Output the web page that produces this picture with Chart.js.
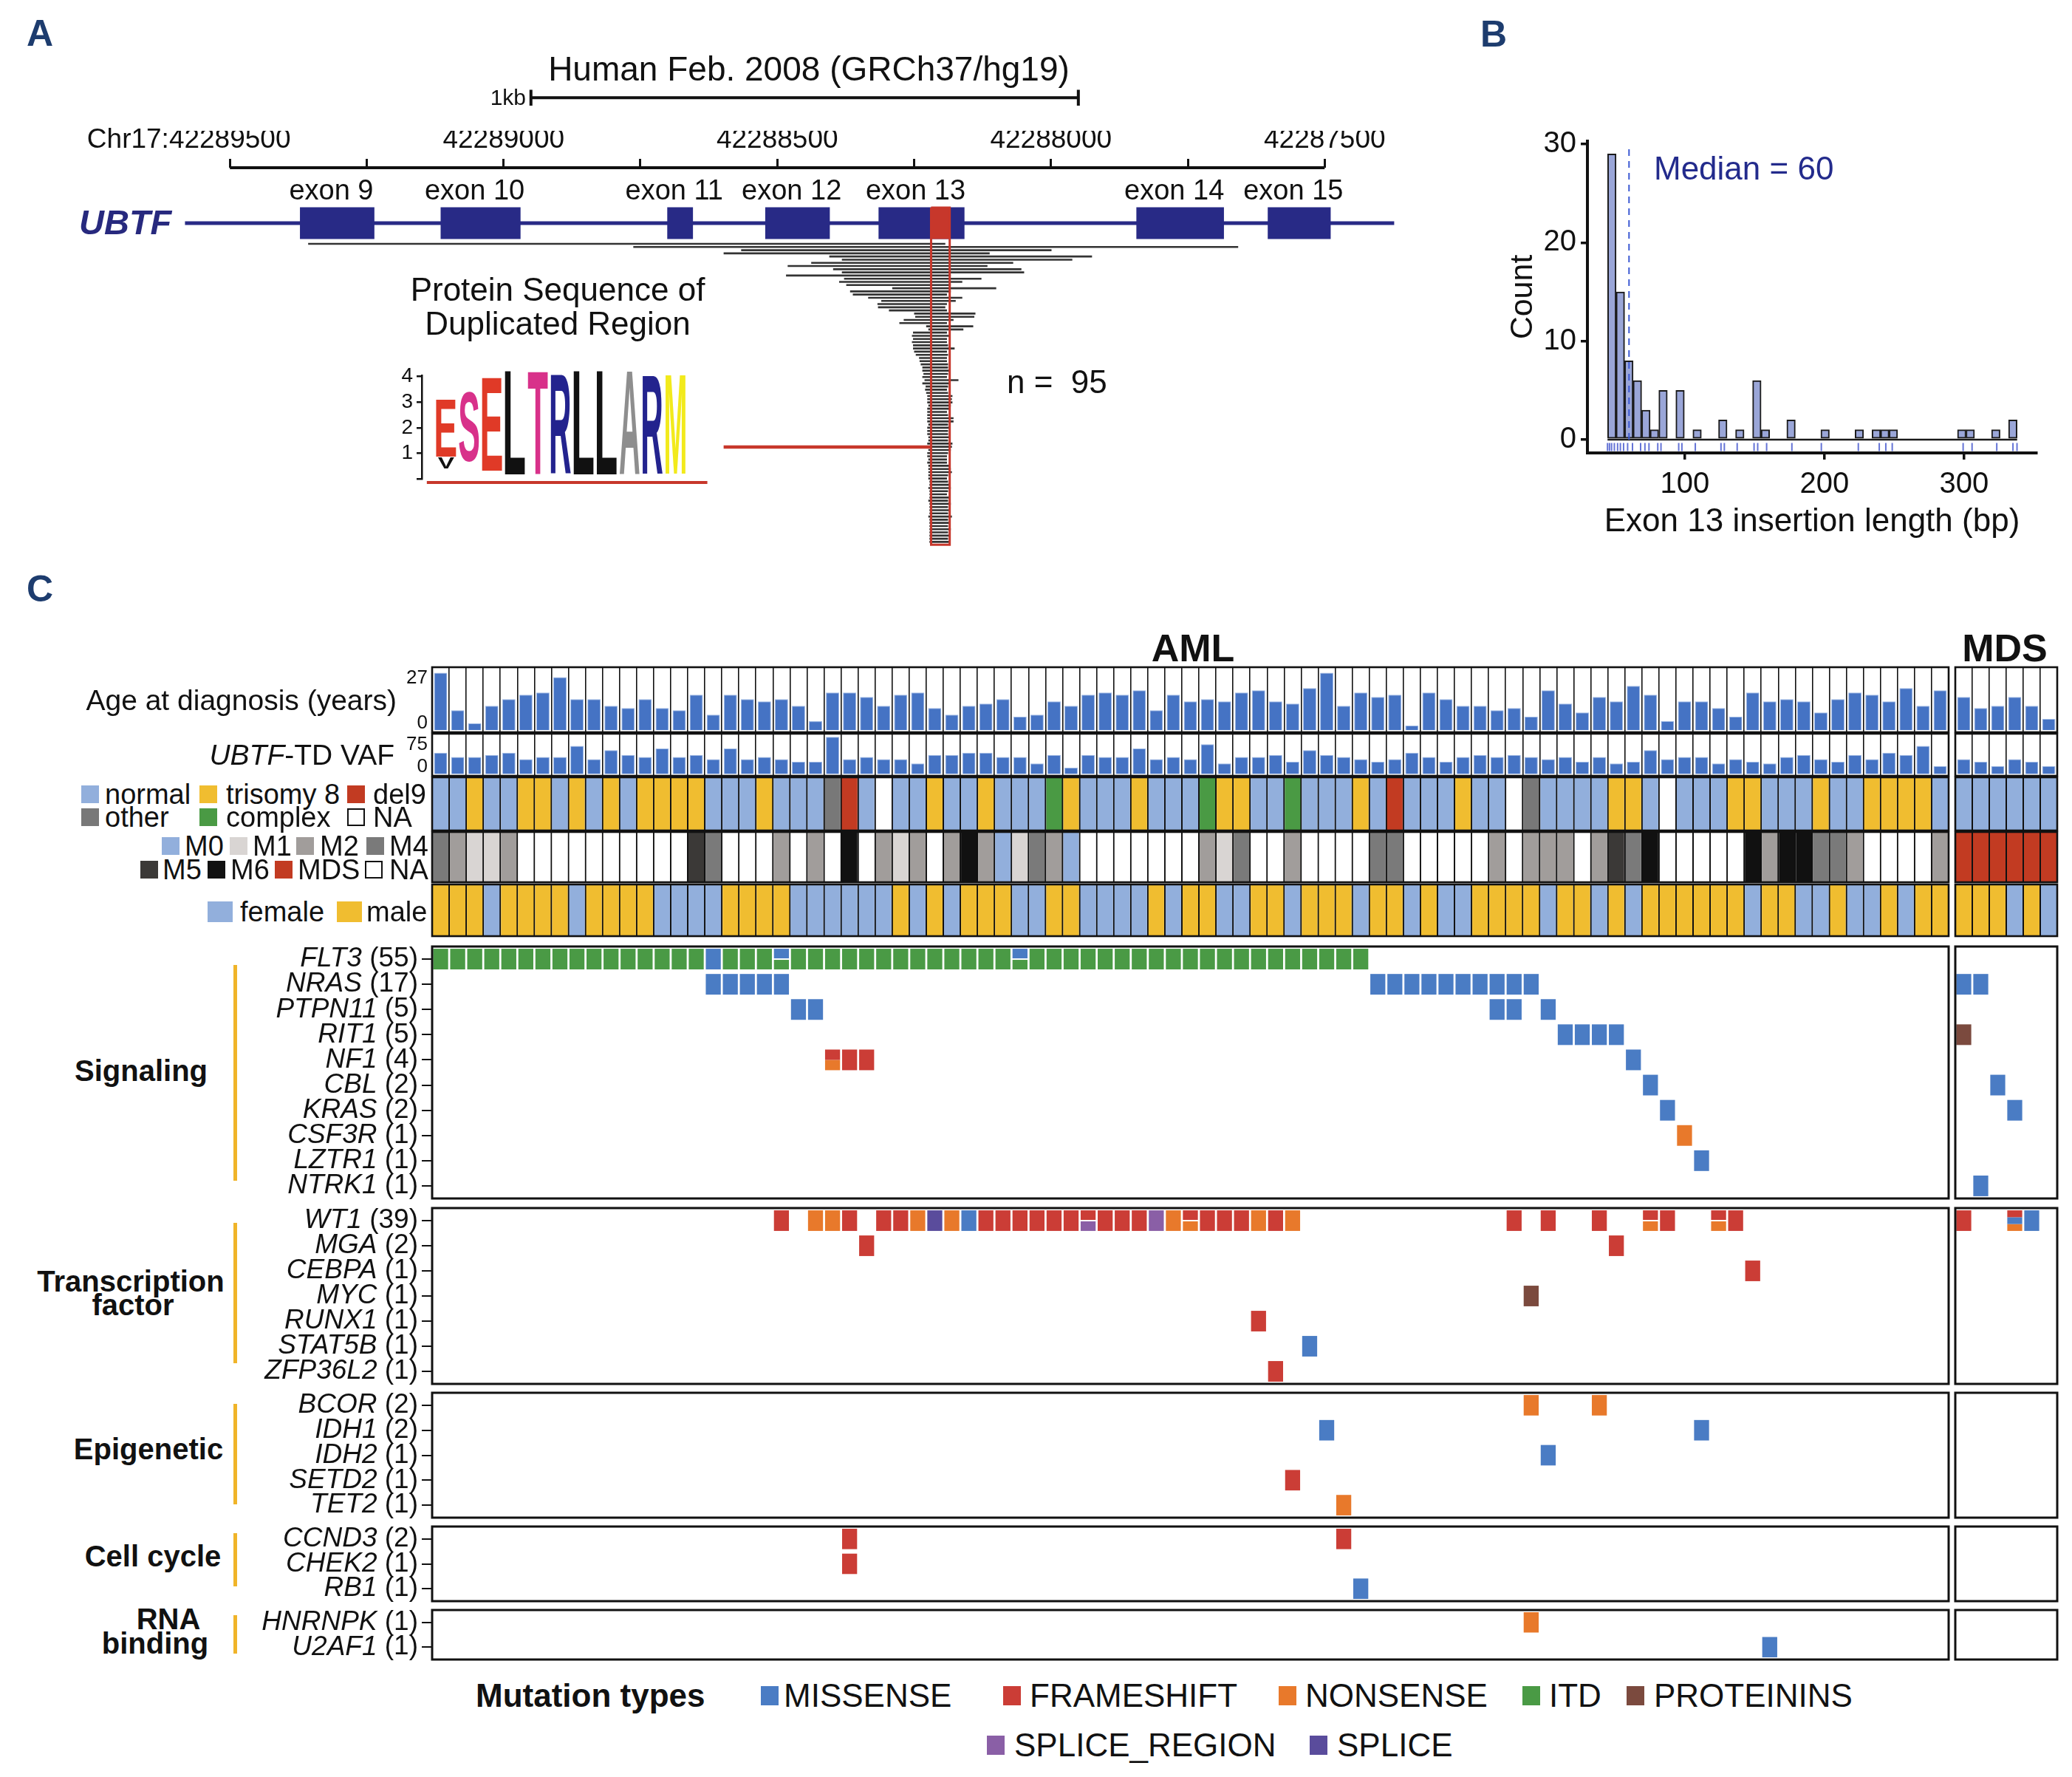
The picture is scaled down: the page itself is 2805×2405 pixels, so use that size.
<!DOCTYPE html>
<html>
<head>
<meta charset="utf-8">
<title>UBTF tandem duplications</title>
<script src="https://cdn.jsdelivr.net/npm/chart.js@4.4.1/dist/chart.umd.min.js"></script>
<style>
  html, body { margin: 0; padding: 0; background: #fff; }
  #fig { position: relative; width: 2805px; height: 2405px; overflow: hidden; background: #fff;
         font-family: 'Liberation Sans', Arial, Helvetica, sans-serif; color: #111; }
  #fig canvas { position: absolute; }
  .t { position: absolute; white-space: pre; line-height: 1; }
  .sw { position: absolute; box-sizing: border-box; }
</style>
</head>
<body>
<div id="fig"></div>
<script>
const FONT = "'Liberation Sans', Arial, Helvetica, sans-serif";

// ---------------- Panel A: UBTF exons 9-15, chr17 (hg19) ----------------
const EXON_NAMES = ['exon 9', 'exon 10', 'exon 11', 'exon 12', 'exon 13', 'exon 14', 'exon 15'];
const EXON_START = [42289372, 42289115, 42288701, 42288522, 42288315, 42287844, 42287604];
const EXON_END   = [42289236, 42288969, 42288654, 42288404, 42288158, 42287684, 42287489];
const GENE_SPAN = [42289582, 42287373];
const RULER_TICKS = [42289500, 42289250, 42289000, 42288750, 42288500, 42288250, 42288000, 42287750, 42287500];
const SCALE_BAR = [42288950, 42287950];      // 1 kb
const DUP_REGION = [42288219, 42288185];     // shared duplicated stretch of exon 13
const LOGO_LINK_FROM = 42288598;

// one duplicated segment per patient (n = 95), left / right genomic end
const INS_LEFT = [
  42289357, 42288763, 42288566, 42288598, 42288405, 42288382, 42288438, 42288481, 42288398, 42288382,
  42288484, 42288378, 42288387, 42288374, 42288290, 42288367, 42288362, 42288334, 42288310, 42288317,
  42288316, 42288296, 42288250, 42288248, 42288269, 42288277, 42288228, 42288224, 42288252, 42288254,
  42288252, 42288254, 42288252, 42288252, 42288250, 42288247, 42288241, 42288240, 42288238, 42288235,
  42288235, 42288233, 42288235, 42288231, 42288235, 42288229, 42288230, 42288228, 42288226, 42288226,
  42288226, 42288224, 42288226, 42288226, 42288226, 42288226, 42288226, 42288224, 42288226, 42288226,
  42288226, 42288224, 42288224, 42288226, 42288226, 42288224, 42288226, 42288226, 42288224, 42288226,
  42288224, 42288224, 42288224, 42288224, 42288224, 42288222, 42288222, 42288224, 42288222, 42288222,
  42288222, 42288224, 42288222, 42288222, 42288222, 42288222, 42288224, 42288222, 42288222, 42288222,
  42288222, 42288222, 42288222, 42288222, 42288222];
const INS_RIGHT = [
  42288193, 42287658, 42287999, 42288112, 42287925, 42287961, 42288069, 42288116, 42288054, 42288049,
  42288183, 42288127, 42288162, 42288183, 42288100, 42288183, 42288190, 42288162, 42288174, 42288190,
  42288193, 42288190, 42288138, 42288140, 42288178, 42288190, 42288142, 42288160, 42288190, 42288185,
  42288190, 42288190, 42288188, 42288176, 42288190, 42288188, 42288190, 42288190, 42288188, 42288188,
  42288185, 42288188, 42288190, 42288169, 42288186, 42288188, 42288190, 42288188, 42288180, 42288181,
  42288180, 42288183, 42288185, 42288190, 42288188, 42288178, 42288178, 42288188, 42288185, 42288188,
  42288188, 42288186, 42288188, 42288180, 42288181, 42288183, 42288188, 42288190, 42288190, 42288190,
  42288185, 42288183, 42288181, 42288188, 42288190, 42288188, 42288186, 42288183, 42288188, 42288190,
  42288186, 42288188, 42288183, 42288188, 42288186, 42288188, 42288181, 42288188, 42288186, 42288188,
  42288183, 42288188, 42288186, 42288188, 42288186];

// sequence logo of the duplicated peptide (bits)
const LOGO_LETTERS = ['E', 'S', 'E', 'L', 'T', 'R', 'L', 'L', 'A', 'R', 'M'];
const LOGO_COLORS  = ['#e03a27', '#d8318a', '#e03a27', '#111111', '#d8318a', '#23238e',
                      '#111111', '#111111', '#8e8e8e', '#23238e', '#f2ea1c'];
const LOGO_BASE = [0.87, 0.65, 0.31, 0.17, 0.17, 0.19, 0.17, 0.17, 0.17, 0.19, 0.21];
const LOGO_TOP  = [3.08, 3.39, 3.95, 4.19, 4.19, 4.05, 4.19, 4.19, 4.19, 4.02, 4.07];
const LOGO_MINOR_LETTERS = ['V'];
const LOGO_MINOR_POS = [0];
const LOGO_MINOR_BASE = [0.42];
const LOGO_MINOR_TOP = [0.85];
const LOGO_YTICKS = [0, 1, 2, 3, 4];

// ---------------- Panel B: insertion length histogram ----------------
const HIST_MIDS = [47.7, 53.8, 59.9, 66.0, 72.1, 78.2, 84.4, 90.5, 96.6, 102.7, 108.8, 114.9,
  121.0, 127.2, 133.3, 139.4, 145.5, 151.6, 157.7, 163.8, 170.0, 176.1, 182.2, 188.3,
  194.4, 200.5, 206.6, 212.8, 218.9, 225.0, 231.1, 237.2, 243.3, 249.4, 255.6, 261.7,
  267.8, 273.9, 280.0, 286.1, 292.2, 298.4, 304.5, 310.6, 316.7, 322.8, 328.9, 335.0];
const HIST_COUNTS = [29, 15, 8, 6, 3, 1, 5, 0, 5, 0, 1, 0,
  0, 2, 0, 1, 0, 6, 1, 0, 0, 2, 0, 0,
  0, 1, 0, 0, 0, 1, 0, 1, 1, 1, 0, 0,
  0, 0, 0, 0, 0, 1, 1, 0, 0, 1, 0, 2];
const HIST_RANGE = [44.6, 338.1];
const HIST_MEDIAN = 60;
const HIST_RUG = [44.6, 46.0, 47.5, 49.5, 51.8, 53.8, 56.1, 59.0, 62.5, 68.3, 71.4, 74.3, 80.6, 82.9,
  95.6, 97.9, 107.5, 125.9, 128.3, 137.5, 149.6, 152.2, 158.6, 176.7, 197.8, 224.3, 239.3,
  244.0, 248.6, 299.4, 305.8, 323.5, 335.1, 338.0];
const HIST_XTICKS = [100, 200, 300];
const HIST_YTICKS = [0, 10, 20, 30];

// ---------------- Panel C: per-patient tracks (89 AML | 6 MDS) ----------------
const AGE_TICKS = [0, 27];
const AGE_AML = [26, 9, 3, 11, 14, 16, 17, 24, 14, 14, 11, 10, 14, 10, 9, 16, 7, 16, 14, 13,
  14, 11, 4, 17, 17, 15, 11, 16, 17, 10, 7, 11, 12, 14, 6, 7, 13, 11, 16, 17,
  16, 18, 9, 16, 13, 14, 13, 17, 18, 13, 12, 19, 26, 11, 17, 15, 16, 2, 17, 14,
  11, 11, 9, 10, 6, 18, 12, 8, 15, 13, 20, 16, 4, 13, 13, 10, 6, 17, 13, 14,
  13, 8, 14, 17, 16, 13, 19, 11, 18];
const AGE_MDS = [15, 10, 11, 15, 11, 5];

const VAF_TICKS = [0, 75];
const VAF_AML = [40, 32, 32, 36, 40, 28, 32, 32, 53, 28, 45, 36, 32, 48, 32, 36, 28, 48, 28, 32,
  28, 23, 23, 70, 28, 32, 28, 28, 20, 36, 36, 40, 40, 32, 32, 20, 36, 12, 36, 32,
  32, 48, 28, 32, 28, 56, 20, 32, 32, 36, 23, 45, 36, 32, 28, 23, 28, 40, 32, 23,
  32, 36, 32, 36, 32, 28, 32, 23, 32, 20, 23, 45, 28, 32, 32, 20, 28, 23, 20, 32,
  36, 28, 23, 36, 28, 40, 36, 53, 15];
const VAF_MDS = [28, 23, 15, 28, 23, 15];

const KARYO_CODES  = ['N', 'T', 'D', 'O', 'C', 'X'];
const KARYO_NAMES  = ['normal', 'trisomy 8', 'del9', 'other', 'complex', 'NA'];
const KARYO_COLORS = ['#92afdc', '#f0bd30', '#c23b22', '#787878', '#4a9a44', '#ffffff'];
const KARYO_AML = 'NNTNNTTNTN TNTTTTNNNT NNNODNXNNT NNTNNNCTNN NTNNNCTTNN CNNNTNDNNN TNNXONNNNT TNXNNNTTNN NTNNTTTTN';
const KARYO_MDS = 'NNNNNN';

const FAB_CODES  = ['0', '1', '2', '4', '5', '6', 'D', '.'];
const FAB_NAMES  = ['M0', 'M1', 'M2', 'M4', 'M5', 'M6', 'MDS', 'NA'];
const FAB_COLORS = ['#92afdc', '#d9d5d3', '#a19d9b', '#7a7a7a', '#3b3937', '#111111', '#c23b22', '#ffffff'];
const FAB_AML = '42112..... .....54... 2.2.6.212. 26201420.. .....214.. 2....44... ..2.222.25 46.....626 6442....2';
const FAB_MDS = 'DDDDDD';

const SEX_CODES  = ['F', 'M'];
const SEX_NAMES  = ['female', 'male'];
const SEX_COLORS = ['#92afdc', '#f0bd30'];
const SEX_AML = 'MMMFMMMMFM MMMFFFFMMM MFFFFFFMFM FMMMFFMMFF FFMFMMFFMM FMMMFMMFMF FMMMMFMMFM FMMMMMMFMM FFMFFMFMM';
const SEX_MDS = 'MMMFMF';

// mutation calls: one char per patient, AML|MDS ('.' = none)
const MUT_CODES  = ['M', 'F', 'N', 'I', 'P', 'R', 'S'];
const MUT_NAMES  = ['MISSENSE', 'FRAMESHIFT', 'NONSENSE', 'ITD', 'PROTEININS', 'SPLICE_REGION', 'SPLICE'];
const MUT_COLORS = ['#4a7cc4', '#cb3d36', '#e8792b', '#4a9a45', '#7b4a3e', '#8a5fa6', '#5a4c9c'];

const SIG_GENES  = ['FLT3', 'NRAS', 'PTPN11', 'RIT1', 'NF1', 'CBL', 'KRAS', 'CSF3R', 'LZTR1', 'NTRK1'];
const SIG_COUNTS = [55, 17, 5, 5, 4, 2, 2, 1, 1, 1];
const SIG_CALLS = [
  'IIIIIIIIII IIIIIIMIII IIIIIIIIII IIIIIIIIII IIIIIIIIII IIIII..... .......... .......... .........|......',
  '.......... ......MMMM M......... .......... .......... .....MMMMM MMMMM..... .......... .........|MM....',
  '.......... .......... .MM....... .......... .......... .......... ..MM.M.... .......... .........|......',
  '.......... .......... .......... .......... .......... .......... ......MMMM .......... .........|P.....',
  '.......... .......... ...FFF.... .......... .......... .......... .......... M......... .........|......',
  '.......... .......... .......... .......... .......... .......... .......... .M........ .........|..M...',
  '.......... .......... .......... .......... .......... .......... .......... ..M....... .........|...M..',
  '.......... .......... .......... .......... .......... .......... .......... ...N...... .........|......',
  '.......... .......... .......... .......... .......... .......... .......... ....M..... .........|......',
  '.......... .......... .......... .......... .......... .......... .......... .......... .........|.M....'];

const TF_GENES  = ['WT1', 'MGA', 'CEBPA', 'MYC', 'RUNX1', 'STAT5B', 'ZFP36L2'];
const TF_COUNTS = [39, 2, 1, 1, 1, 1, 1];
const TF_CALLS = [
  '.......... .......... F.NNF.FFNS NMFFFFFFFF FFRNFFFFNF N......... ...F.F..F. .FF..FF... .........|F..FM.',
  '.......... .......... .....F.... .......... .......... .......... .........F .......... .........|......',
  '.......... .......... .......... .......... .......... .......... .......... .......F.. .........|......',
  '.......... .......... .......... .......... .......... .......... ....P..... .......... .........|......',
  '.......... .......... .......... .......... ........F. .......... .......... .......... .........|......',
  '.......... .......... .......... .......... .......... .M........ .......... .......... .........|......',
  '.......... .......... .......... .......... .........F .......... .......... .......... .........|......'];

const EPI_GENES  = ['BCOR', 'IDH1', 'IDH2', 'SETD2', 'TET2'];
const EPI_COUNTS = [2, 2, 1, 1, 1];
const EPI_CALLS = [
  '.......... .......... .......... .......... .......... .......... ....N...N. .......... .........|......',
  '.......... .......... .......... .......... .......... ..M....... .......... ....M..... .........|......',
  '.......... .......... .......... .......... .......... .......... .....M.... .......... .........|......',
  '.......... .......... .......... .......... .......... F......... .......... .......... .........|......',
  '.......... .......... .......... .......... .......... ...N...... .......... .......... .........|......'];

const CC_GENES  = ['CCND3', 'CHEK2', 'RB1'];
const CC_COUNTS = [2, 1, 1];
const CC_CALLS = [
  '.......... .......... ....F..... .......... .......... ...F...... .......... .......... .........|......',
  '.......... .......... ....F..... .......... .......... .......... .......... .......... .........|......',
  '.......... .......... .......... .......... .......... ....M..... .......... .......... .........|......'];

const RNA_GENES  = ['HNRNPK', 'U2AF1'];
const RNA_COUNTS = [1, 1];
const RNA_CALLS = [
  '.......... .......... .......... .......... .......... .......... ....N..... .......... .........|......',
  '.......... .......... .......... .......... .......... .......... .......... ........M. .........|......'];

// cells carrying two or three mutation types (top to bottom)
const SPLIT_CELLS = [
  ['FLT3', 'AML', 20, 'MI'], ['FLT3', 'AML', 34, 'MI'], ['NF1', 'AML', 23, 'FN'],
  ['WT1', 'AML', 38, 'FR'], ['WT1', 'AML', 44, 'FN'], ['WT1', 'AML', 71, 'FN'],
  ['WT1', 'AML', 75, 'FN'], ['WT1', 'MDS', 3, 'FMN']];

// ---------------- helpers ----------------
const fig = document.getElementById('fig');
const strip = s => s.replace(/ /g, '');

function addCanvas(x, y, w, h) {
  const c = document.createElement('canvas');
  c.width = w; c.height = h;
  c.style.left = x + 'px'; c.style.top = y + 'px';
  c.style.width = w + 'px'; c.style.height = h + 'px';
  fig.appendChild(c);
  return c;
}

function text(html, x, y, size, anchor, style) {
  const d = document.createElement('div');
  d.className = 't';
  d.innerHTML = html;
  d.style.left = x + 'px';
  d.style.top = y + 'px';
  d.style.fontSize = size + 'px';
  const tx = anchor === 'r' ? '-100%' : anchor === 'c' ? '-50%' : '0';
  d.style.transform = `translate(${tx},-50%)`;
  Object.assign(d.style, style || {});
  fig.appendChild(d);
}

function swatch(x, yc, w, h, color) {
  const d = document.createElement('div');
  d.className = 'sw';
  const hollow = color === '#ffffff';
  Object.assign(d.style, {
    left: x + 'px', top: (yc - h / 2) + 'px', width: w + 'px', height: h + 'px',
    background: color, border: hollow ? '2.5px solid #111' : 'none'
  });
  fig.appendChild(d);
}

const base = padding => ({
  responsive: false, animation: false, devicePixelRatio: 1, events: [],
  layout: { padding },
  plugins: { legend: { display: false }, tooltip: { enabled: false } }
});

const outline = w => ({
  id: 'outline',
  afterDraw(chart) {
    const { ctx, chartArea: a } = chart;
    ctx.save();
    ctx.lineWidth = w; ctx.strokeStyle = '#111';
    ctx.strokeRect(a.left, a.top, a.right - a.left, a.bottom - a.top);
    ctx.restore();
  }
});

// tick labels for the two ends of a compact track axis (top label hangs, bottom sits)
const edgeTicks = ticks => ({
  id: 'edgeTicks',
  afterDraw(chart) {
    const { ctx, chartArea: a } = chart;
    ctx.save();
    ctx.fillStyle = '#111'; ctx.font = `26px ${FONT}`; ctx.textAlign = 'right';
    ctx.textBaseline = 'top'; ctx.fillText(String(ticks[1]), a.left - 6, a.top + 2);
    ctx.textBaseline = 'bottom'; ctx.fillText(String(ticks[0]), a.left - 6, a.bottom + 1);
    ctx.restore();
  }
});

const geneLabels = (genes, counts) => ({
  id: 'geneLabels',
  afterDraw(chart) {
    const { ctx, chartArea: a, scales: { y } } = chart;
    ctx.save();
    ctx.fillStyle = '#111'; ctx.textBaseline = 'middle'; ctx.textAlign = 'right';
    const xr = a.left - 19;
    genes.forEach((g, i) => {
      const py = y.getPixelForValue(i);
      const cnt = ` (${counts[i]})`;
      ctx.font = `37px ${FONT}`;
      const w = ctx.measureText(cnt).width;
      ctx.fillText(cnt, xr, py);
      ctx.font = `italic 37px ${FONT}`;
      ctx.fillText(g, xr - w, py);
    });
    ctx.restore();
  }
});

function stretchGlyph(ctx, ch, x, y, w, h, color) {
  ctx.save();
  ctx.font = `bold 200px ${FONT}`;
  ctx.textAlign = 'left'; ctx.textBaseline = 'alphabetic';
  const m = ctx.measureText(ch);
  const gw = m.actualBoundingBoxLeft + m.actualBoundingBoxRight;
  const gh = m.actualBoundingBoxAscent + m.actualBoundingBoxDescent;
  ctx.translate(x, y);
  ctx.scale(w / gw, h / gh);
  ctx.fillStyle = color;
  ctx.fillText(ch, m.actualBoundingBoxLeft, m.actualBoundingBoxAscent);
  ctx.restore();
}

const logoLetters = {
  id: 'logoLetters',
  afterDatasetsDraw(chart) {
    const { ctx } = chart;
    chart.data.datasets.forEach((ds, di) => {
      if (!ds.glyphs) return;
      chart.getDatasetMeta(di).data.forEach((bar, i) => {
        const p = bar.getProps(['x', 'y', 'base', 'width'], true);
        const top = Math.min(p.y, p.base), h = Math.abs(p.base - p.y);
        stretchGlyph(ctx, ds.glyphs[i], p.x - p.width / 2, top, p.width, h, ds.glyphColors[i]);
      });
    });
  }
};

const lineDs = (data, color, width, extra) => Object.assign({
  type: 'line', data, borderColor: color, borderWidth: width, pointRadius: 0, fill: false,
  tension: 0, clip: false, spanGaps: false, borderCapStyle: 'butt', borderJoinStyle: 'miter'
}, extra || {});
const seg = (x0, x1, y) => [{ x: x0, y }, { x: x1, y }, { x: x1, y: null }];

// ---------------- Panel A ----------------
const GENE_ROW = -5.5, EXON_TOP_ROW = -10.4, DUP_BOTTOM_ROW = 95.9, LINK_ROW = 65.1;
const RULER_ROW = -23, SCALEBAR_ROW = -45.1, EXON_LABEL_ROW = -15.5;

const exonLabels = {
  id: 'exonLabels',
  afterDraw(chart) {
    const { ctx, scales: { x, y } } = chart;
    ctx.save();
    ctx.fillStyle = '#111'; ctx.font = `38px ${FONT}`; ctx.textAlign = 'center'; ctx.textBaseline = 'middle';
    EXON_NAMES.forEach((name, i) => {
      ctx.fillText(name, x.getPixelForValue((EXON_START[i] + EXON_END[i]) / 2) - 8, y.getPixelForValue(EXON_LABEL_ROW));
    });
    const px = x.getPixelForValue(RULER_TICKS[0]);
    ctx.font = `37px ${FONT}`;
    const w = ctx.measureText(String(RULER_TICKS[0])).width;
    ctx.textAlign = 'right';
    ctx.fillText('Chr17:', px - w / 2, chart.chartArea.top - 12 - 3 - 37 * 0.6);
    ctx.restore();
  }
};

new Chart(addCanvas(0, 0, 1950, 760), {
  type: 'line',
  data: { datasets: [
    lineDs([{ x: DUP_REGION[0], y: EXON_TOP_ROW }, { x: DUP_REGION[0], y: DUP_BOTTOM_ROW },
            { x: DUP_REGION[1], y: DUP_BOTTOM_ROW }, { x: DUP_REGION[1], y: EXON_TOP_ROW },
            { x: DUP_REGION[0], y: EXON_TOP_ROW }], '#c7372b', 3),
    lineDs(seg(DUP_REGION[0], DUP_REGION[1], GENE_ROW), '#c7372b', 43),
    lineDs(seg(LOGO_LINK_FROM, DUP_REGION[0], LINK_ROW), '#c7372b', 4.5),
    lineDs(INS_LEFT.flatMap((l, i) => seg(l, INS_RIGHT[i], i + 1)), '#333333', 2.6),
    lineDs(EXON_START.flatMap((s, i) => seg(s, EXON_END[i], GENE_ROW)), '#282a86', 43),
    lineDs(seg(GENE_SPAN[0], GENE_SPAN[1], GENE_ROW), '#282a86', 5),
    lineDs(seg(RULER_TICKS[0], RULER_TICKS[RULER_TICKS.length - 1], RULER_ROW), '#111', 4),
    lineDs([...seg(SCALE_BAR[0], SCALE_BAR[1], SCALEBAR_ROW),
            { x: SCALE_BAR[0], y: SCALEBAR_ROW - 2.5 }, { x: SCALE_BAR[0], y: SCALEBAR_ROW + 2.5 }, { x: SCALE_BAR[0], y: null },
            { x: SCALE_BAR[1], y: SCALEBAR_ROW - 2.5 }, { x: SCALE_BAR[1], y: SCALEBAR_ROW + 2.5 }, { x: SCALE_BAR[1], y: null }],
           '#111', 4)
  ] },
  options: {
    ...base({ left: 100, right: 50, top: 177, bottom: 15 }),
    scales: {
      x: {
        type: 'linear', position: 'top', reverse: true, min: 42287356, max: 42289785,
        afterBuildTicks: s => { s.ticks = RULER_TICKS.map(v => ({ value: v })); },
        afterFit: s => { s.height = 50; },
        grid: { drawOnChartArea: false, drawTicks: true, tickLength: 12, color: '#111', lineWidth: 3 },
        border: { display: false },
        ticks: { font: { size: 37 }, color: '#111', padding: 3, autoSkip: false, maxRotation: 0,
                 callback: v => (v % 500 === 0 ? String(v) : '') }
      },
      y: { type: 'linear', reverse: true, min: -23, max: 97.7, display: false }
    }
  },
  plugins: [exonLabels]
});

// sequence logo
new Chart(addCanvas(500, 480, 480, 190), {
  type: 'bar',
  data: { datasets: [
    lineDs([{ x: -0.84, y: -0.14 }, { x: 11.39, y: -0.14 }], '#c7372b', 4),
    { data: LOGO_LETTERS.map((_, i) => ({ x: i, y: [LOGO_BASE[i], LOGO_TOP[i]] })),
      glyphs: LOGO_LETTERS, glyphColors: LOGO_COLORS,
      backgroundColor: 'rgba(0,0,0,0)', borderWidth: 0, barThickness: 27, grouped: false, clip: false },
    { data: LOGO_MINOR_LETTERS.map((_, i) => ({ x: LOGO_MINOR_POS[i], y: [LOGO_MINOR_BASE[i], LOGO_MINOR_TOP[i]] })),
      glyphs: LOGO_MINOR_LETTERS, glyphColors: ['#111111'],
      backgroundColor: 'rgba(0,0,0,0)', borderWidth: 0, barThickness: 22, grouped: false, clip: false }
  ] },
  options: {
    ...base({ left: 41, right: 19, top: 28, bottom: 17 }),
    scales: {
      x: { type: 'linear', min: -1.06, max: 11.5, display: false, offset: false },
      y: {
        type: 'linear', min: 0, max: 4.05,
        afterBuildTicks: s => { s.ticks = LOGO_YTICKS.map(v => ({ value: v })); },
        afterFit: s => { s.width = 30; },
        grid: { drawOnChartArea: false, tickLength: 7, color: '#111', lineWidth: 2.5 },
        border: { color: '#111', width: 2.5 },
        ticks: { font: { size: 28 }, color: '#111', padding: 5, autoSkip: false,
                 callback: v => (v === 0 ? '' : String(v)) }
      }
    }
  },
  plugins: [logoLetters]
});

// ---------------- Panel B ----------------
new Chart(addCanvas(1990, 150, 815, 610), {
  type: 'bar',
  data: { datasets: [
    lineDs([{ x: HIST_MEDIAN, y: 0 }, { x: HIST_MEDIAN, y: 29.8 }], '#3d5bd3', 2, { borderDash: [9, 7] }),
    { type: 'scatter', data: HIST_RUG.map(v => ({ x: v, y: -0.75 })), pointStyle: 'line', pointRotation: 90,
      pointRadius: 5.5, pointBorderColor: 'rgba(50,70,200,0.75)', pointBorderWidth: 2, clip: false },
    lineDs([{ x: HIST_RANGE[0], y: 0 }, { x: HIST_RANGE[1], y: 0 }], '#1a1a1a', 2.5),
    { data: HIST_MIDS.map((m, i) => ({ x: m, y: HIST_COUNTS[i] })),
      backgroundColor: '#9aa6d8', borderColor: '#1a1a1a', borderWidth: 2, borderSkipped: false,
      barPercentage: 1, categoryPercentage: 1 }
  ] },
  options: {
    ...base({ left: 46, right: 48, top: 41, bottom: 27 }),
    scales: {
      x: {
        type: 'linear', min: 30.2, max: 352, offset: false,
        afterBuildTicks: s => { s.ticks = HIST_XTICKS.map(v => ({ value: v })); },
        afterFit: s => { s.height = 120; },
        grid: { drawOnChartArea: false, offset: false, tickLength: 9, color: '#111', lineWidth: 3.5 },
        border: { color: '#111', width: 4 },
        ticks: { font: { size: 40 }, color: '#111', padding: 10, autoSkip: false, maxRotation: 0 },
        title: { display: true, text: 'Exon 13 insertion length (bp)', font: { size: 44 }, color: '#111', padding: 0 }
      },
      y: {
        type: 'linear', min: -1.35, max: 30.3,
        afterBuildTicks: s => { s.ticks = HIST_YTICKS.map(v => ({ value: v })); },
        afterFit: s => { s.width = 113; },
        grid: { drawOnChartArea: false, tickLength: 9, color: '#111', lineWidth: 3.5 },
        border: { color: '#111', width: 4 },
        ticks: { font: { size: 40 }, color: '#111', padding: 6, autoSkip: false },
        title: { display: true, text: 'Count', font: { size: 43 }, color: '#111', padding: 0 }
      }
    }
  }
});

// ---------------- Panel C: clinical tracks ----------------
const AML_BOX = { left: 585, right: 2638 };
const MDS_BOX = { left: 2647, right: 2785 };
const ROW_AGE = [903, 991], ROW_VAF = [993, 1050], ROW_KARYO = [1052, 1124], ROW_FAB = [1126, 1194], ROW_SEX = [1197, 1267];

function trackChart(box, rows, values, colors, o) {
  const padL = o.ticks ? 50 : 6;
  const x0 = box.left - padL;
  const c = addCanvas(x0, rows[0] - 2, box.right + 6 - x0, rows[1] - rows[0] + 4);
  // full-height cells carry their own black side borders so the column grid stays visible
  const cellDs = o.cells
    ? { borderColor: '#111', borderWidth: { left: 1, right: 1, top: 0, bottom: 0 }, borderSkipped: false, inflateAmount: 0 }
    : { borderColor: o.edge, borderWidth: 1 };
  return new Chart(c, {
    type: 'bar',
    data: { labels: values.map((_, i) => i + 1), datasets: [Object.assign({
      data: values, backgroundColor: colors,
      barPercentage: o.bar || 1, categoryPercentage: 1 }, cellDs)] },
    options: {
      ...base({ left: padL, right: 6, top: 2, bottom: 2 }),
      scales: {
        x: { grid: { offset: true, color: '#111', lineWidth: o.sep, drawTicks: false },
             ticks: { display: false }, border: { display: false }, afterFit: s => { s.height = 0; } },
        y: { display: false, min: o.range[0], max: o.range[1] }
      }
    },
    plugins: o.ticks ? [outline(2.6), edgeTicks(o.ticks)] : [outline(2.6)]
  });
}

const codeColors = (str, codes, palette) => [...strip(str)].map(ch => palette[codes.indexOf(ch)]);
const cells = str => [...strip(str)].map(() => 1);

[[AML_BOX, AGE_AML, AGE_TICKS], [MDS_BOX, AGE_MDS, null]].forEach(([box, v, t]) =>
  trackChart(box, ROW_AGE, v, '#4573c4', { bar: 0.78, edge: '#a4bde6', sep: 1.6, range: [-1, 28.5], ticks: t }));
[[AML_BOX, VAF_AML, VAF_TICKS], [MDS_BOX, VAF_MDS, null]].forEach(([box, v, t]) =>
  trackChart(box, ROW_VAF, v, '#4573c4', { bar: 0.78, edge: '#a4bde6', sep: 1.6, range: [-3.5, 76], ticks: t }));
[[AML_BOX, KARYO_AML], [MDS_BOX, KARYO_MDS]].forEach(([box, s]) =>
  trackChart(box, ROW_KARYO, cells(s), codeColors(s, KARYO_CODES, KARYO_COLORS), { cells: true, sep: 2, range: [0, 1] }));
[[AML_BOX, FAB_AML], [MDS_BOX, FAB_MDS]].forEach(([box, s]) =>
  trackChart(box, ROW_FAB, cells(s), codeColors(s, FAB_CODES, FAB_COLORS), { cells: true, sep: 2, range: [0, 1] }));
[[AML_BOX, SEX_AML], [MDS_BOX, SEX_MDS]].forEach(([box, s]) =>
  trackChart(box, ROW_SEX, cells(s), codeColors(s, SEX_CODES, SEX_COLORS), { cells: true, sep: 2, range: [0, 1] }));

// ---------------- Panel C: mutation panels ----------------
const MUT_COLOR = Object.fromEntries(MUT_CODES.map((c, i) => [c, MUT_COLORS[i]]));
const CLEAR = 'rgba(0,0,0,0)';
const HALF = 0.41;

function mutationPanel(cohort, genes, counts, calls, rows) {
  const aml = cohort === 'AML';
  const box = aml ? AML_BOX : MDS_BOX;
  const strs = calls.map(s => strip(s.split('|')[aml ? 0 : 1]));
  const n = strs[0].length;
  const splits = SPLIT_CELLS.filter(s => s[1] === cohort && genes.includes(s[0]));
  const cellOpts = { grouped: false, barPercentage: 0.88, categoryPercentage: 1, borderWidth: 0 };
  const datasets = [];
  const parts = Math.max(0, ...splits.map(s => s[3].length));
  for (let p = 0; p < parts; p++) {
    const data = new Array(n).fill(null), bg = new Array(n).fill(CLEAR);
    splits.forEach(([g, , col, types]) => {
      if (p >= types.length) return;
      const r = genes.indexOf(g), k = types.length;
      data[col] = [r - HALF + 2 * HALF * p / k, r - HALF + 2 * HALF * (p + 1) / k];
      bg[col] = MUT_COLOR[types[p]];
    });
    datasets.push({ data, backgroundColor: bg, ...cellOpts });
  }
  strs.forEach((s, r) => {
    const data = [], bg = [];
    [...s].forEach((ch, i) => {
      const split = splits.some(sp => sp[0] === genes[r] && sp[2] === i);
      if (ch === '.' || split) { data.push(null); bg.push(CLEAR); }
      else { data.push([r - HALF, r + HALF]); bg.push(MUT_COLOR[ch]); }
    });
    datasets.push({ data, backgroundColor: bg, ...cellOpts });
  });

  const padL = aml ? 231 : 7;
  const x0 = box.left - padL - (aml ? 14 : 0);
  const c = addCanvas(x0, rows[0] - 3, box.right + 7 - x0, rows[1] - rows[0] + 6);
  const yRange = { type: 'linear', reverse: true, min: -0.5, max: genes.length - 0.5 };
  new Chart(c, {
    type: 'bar',
    data: { labels: strs[0].split('').map((_, i) => i + 1), datasets },
    options: {
      ...base({ left: padL, right: 7, top: 3, bottom: 3 }),
      scales: {
        x: { display: false },
        y: aml ? { ...yRange,
          afterBuildTicks: s => { s.ticks = genes.map((_, i) => ({ value: i })); },
          afterFit: s => { s.width = 14; },
          ticks: { display: false },
          grid: { drawOnChartArea: false, drawTicks: true, tickLength: 14, color: '#111', lineWidth: 2 },
          border: { display: false } } : { ...yRange, display: false }
      }
    },
    plugins: aml ? [outline(3), geneLabels(genes, counts)] : [outline(3)]
  });
}

const PANELS = [
  { genes: SIG_GENES, counts: SIG_COUNTS, calls: SIG_CALLS, rows: [1281, 1622], bar: [1306, 1598],
    label: [['Signaling', 191, 1449]] },
  { genes: TF_GENES, counts: TF_COUNTS, calls: TF_CALLS, rows: [1635, 1873], bar: [1655, 1845],
    label: [['Transcription', 177, 1734], ['factor', 180, 1766]] },
  { genes: EPI_GENES, counts: EPI_COUNTS, calls: EPI_CALLS, rows: [1885, 2054], bar: [1900, 2036],
    label: [['Epigenetic', 201, 1961]] },
  { genes: CC_GENES, counts: CC_COUNTS, calls: CC_CALLS, rows: [2066, 2167], bar: [2075, 2147],
    label: [['Cell cycle', 207, 2106]] },
  { genes: RNA_GENES, counts: RNA_COUNTS, calls: RNA_CALLS, rows: [2179, 2246], bar: [2186, 2238],
    label: [['RNA', 228, 2191], ['binding', 210, 2224]] }
];

PANELS.forEach(p => {
  mutationPanel('AML', p.genes, p.counts, p.calls, p.rows);
  mutationPanel('MDS', p.genes, p.counts, p.calls, p.rows);
  const b = document.createElement('div');
  b.className = 'sw';
  Object.assign(b.style, { left: '316px', top: p.bar[0] + 'px', width: '5px', height: (p.bar[1] - p.bar[0]) + 'px', background: '#f0b429' });
  fig.appendChild(b);
  p.label.forEach(([t, x, y]) => text(t, x, y, 40, 'c', { fontWeight: 'bold' }));
});

// ---------------- text and legends ----------------
const panelLetter = { fontWeight: 'bold', color: '#1d3c6e' };
text('A', 36, 45, 50, 'l', panelLetter);
text('B', 2004, 46, 50, 'l', panelLetter);
text('C', 36, 797, 50, 'l', panelLetter);

text('Human Feb. 2008 (GRCh37/hg19)', 1095, 93, 46, 'c');
text('1kb', 712, 132, 30, 'r');
text('UBTF', 107, 300, 47, 'l', { fontWeight: 'bold', fontStyle: 'italic', color: '#27297e' });
text('Protein Sequence of', 755, 392, 44, 'c');
text('Duplicated Region', 755, 438, 44, 'c');
text('n =  95', 1363, 517, 44, 'l');
text('Median = 60', 2239, 228, 44, 'l', { color: '#232b8c' });

text('AML', 1615, 877, 52, 'c', { fontWeight: 'bold' });
text('MDS', 2714, 877, 52, 'c', { fontWeight: 'bold' });
text('Age at diagnosis (years)', 537, 947, 39, 'r');
text('<i>UBTF</i>-TD VAF', 534, 1021, 39, 'r');

// karyotype legend
[[0, 110, 142, 1075], [1, 270, 306, 1075], [2, 470, 505, 1075],
 [3, 110, 142, 1106], [4, 270, 306, 1106], [5, 470, 505, 1106]].forEach(([i, sx, tx, y]) => {
  swatch(sx, y, 24, 24, KARYO_COLORS[i]);
  text(KARYO_NAMES[i], tx, y, 38, 'l');
});
// FAB legend
[[0, 219, 250, 1145], [1, 311, 342, 1145], [2, 401, 433, 1145], [3, 496, 527, 1145],
 [4, 190, 220, 1177], [5, 281, 312, 1177], [6, 372, 403, 1177], [7, 494, 527, 1177]].forEach(([i, sx, tx, y]) => {
  swatch(sx, y, 24, 24, FAB_COLORS[i]);
  text(FAB_NAMES[i], tx, y, 38, 'l');
});
// sex legend
[[0, 281, 325], [1, 456, 496]].forEach(([i, sx, tx]) => {
  swatch(sx, 1234, 34, 28, SEX_COLORS[i]);
  text(SEX_NAMES[i], tx, 1234, 38, 'l');
});

// mutation type legend
text('Mutation types', 644, 2295, 44, 'l', { fontWeight: 'bold' });
[[0, 1030, 1061, 2295], [1, 1358, 1394, 2295], [2, 1731, 1767, 2295], [3, 2061, 2097, 2295],
 [4, 2202, 2239, 2295], [5, 1336, 1373, 2362], [6, 1773, 1810, 2362]].forEach(([i, sx, tx, y]) => {
  swatch(sx, y, 24, 26, MUT_COLORS[i]);
  text(MUT_NAMES[i], tx, y, 44, 'l');
});
</script>
</body>
</html>
